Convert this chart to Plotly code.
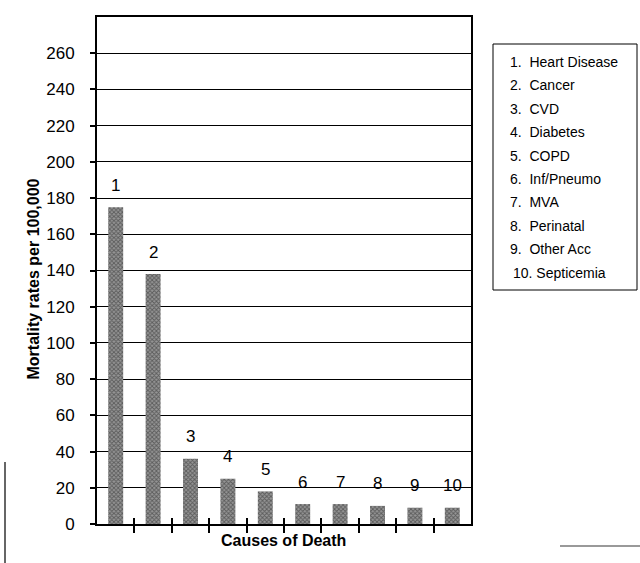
import plotly.graph_objects as go

categories = [1, 2, 3, 4, 5, 6, 7, 8, 9, 10]
cause_names = ["Heart Disease", "Cancer", "CVD", "Diabetes", "COPD",
               "Inf/Pneumo", "MVA", "Perinatal", "Other Acc", "Septicemia"]
mortality = [175, 138, 36, 25, 18, 11, 11, 10, 9, 9]
y_ticks = [0, 20, 40, 60, 80, 100, 120, 140, 160, 180, 200, 220, 240, 260]

FONT = "Liberation Sans, Arial, sans-serif"

L, R, T, B = 97, 471, 17, 524


def px(xp):
    return (xp - L) / (R - L)


def py(yp):
    return (B - yp) / (B - T)


boundaries = [c + 0.5 for c in categories[:-1]]

fig = go.Figure()
fig.add_trace(go.Bar(
    x=categories, y=mortality, width=0.4,
    marker=dict(color="#8c8c8c", line=dict(width=0),
                pattern=dict(shape="x", fgcolor="#222222", bgcolor="#959595",
                             size=3, solidity=0.5)),
    showlegend=False, hoverinfo="x+y",
))

# bar number labels
for c, v in zip(categories, mortality):
    fig.add_annotation(x=c, y=v, text=str(c), showarrow=False, xref="x", yref="y",
                       yshift=22, font=dict(family=FONT, size=17, color="black"))

# legend box items
for i, (c, name) in enumerate(zip(categories, cause_names)):
    ypix = 62 + i * 23.4
    fig.add_annotation(x=px(508 if c < 10 else 511), y=py(ypix),
                       xref="paper", yref="paper", xanchor="left", yanchor="middle",
                       text=f"{c}.{'&nbsp;&nbsp;' if c < 10 else '&nbsp;'}{name}",
                       showarrow=False, font=dict(family=FONT, size=14, color="black"))

fig.add_shape(type="rect", xref="paper", yref="paper",
              x0=px(493), x1=px(637), y0=py(290), y1=py(44),
              line=dict(color="black", width=1), fillcolor="rgba(0,0,0,0)")

# axis titles
fig.add_annotation(x=px(283), y=py(551), xref="paper", yref="paper",
                   text="<b>Causes of Death</b>", showarrow=False,
                   font=dict(family=FONT, size=16, color="black"))
fig.add_annotation(x=px(22), y=py(279), xref="paper", yref="paper",
                   text="<b>Mortality rates per 100,000</b>", showarrow=False, textangle=-90,
                   font=dict(family=FONT, size=16, color="black"))

# scan artifacts
fig.add_shape(type="line", xref="paper", yref="paper", x0=px(5), x1=px(5),
              y0=py(563), y1=py(462), line=dict(color="#666", width=2))
fig.add_shape(type="line", xref="paper", yref="paper", x0=px(560), x1=px(640),
              y0=py(546), y1=py(546), line=dict(color="#777", width=1.5))

fig.update_layout(
    width=640, height=563,
    margin=dict(l=L, r=640 - R, t=T, b=563 - B),
    paper_bgcolor="white", plot_bgcolor="white",
    font=dict(family=FONT, color="black"),
    xaxis=dict(range=[0.5, 10.5], tickmode="array", tickvals=boundaries,
               showticklabels=False, ticks="outside", ticklen=7, tickwidth=2,
               tickcolor="black", showline=True, linecolor="black", linewidth=2,
               mirror=True, showgrid=False, zeroline=False,
               minor=dict(tickmode="array", tickvals=boundaries, ticks="inside",
                          ticklen=6, tickwidth=2, tickcolor="black", showgrid=False)),
    yaxis=dict(range=[0, 280], tickvals=y_ticks, ticks="outside", ticklen=5,
               tickcolor="black", tickwidth=1.5, showline=True, linecolor="black",
               linewidth=2, mirror=True, showgrid=True, gridcolor="black", gridwidth=1,
               zeroline=False, ticklabelstandoff=12,
               tickfont=dict(family=FONT, size=17, color="black")),
)

fig.write_html("out.html", config={"displayModeBar": False},
               post_script="document.body.style.margin='0';")
